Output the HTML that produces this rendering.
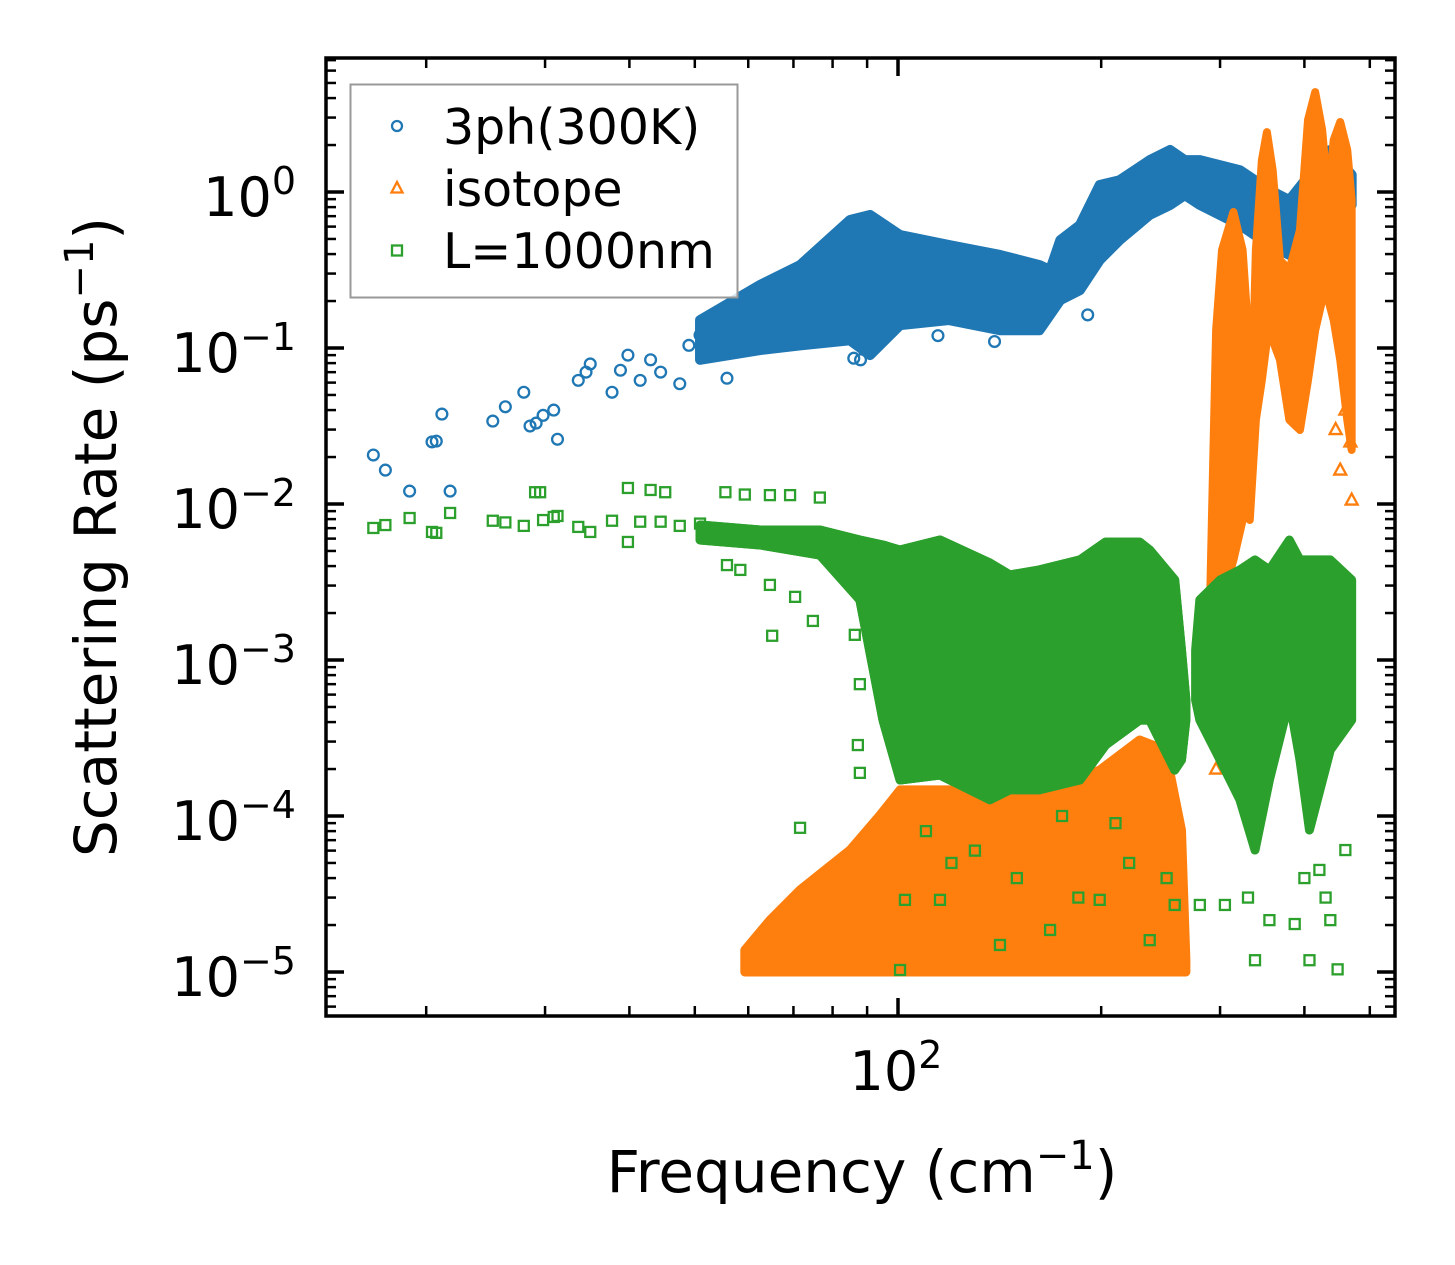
<!DOCTYPE html>
<html><head><meta charset="utf-8"><style>
html,body{margin:0;padding:0;background:#fff;}
svg{display:block;font-family:"DejaVu Sans","Liberation Sans",sans-serif;}
</style></head><body>
<svg id="chart" width="1455" height="1265" viewBox="0 0 1455 1265" xmlns="http://www.w3.org/2000/svg" style="position:absolute;left:0;top:0">
<rect width="1455" height="1265" fill="#fff"/>
<g id="plot"></g>
<g id="axes"></g>
</svg>
<script>
// ---- data (frequency in cm^-1, rate in ps^-1) ----
const blueSparseFreq = [16.7,17.4,18.9,20.4,20.7,21.1,21.7,25.1,26.2,27.9,28.5,29.1,29.8,30.9,31.3,33.6,34.5,35.0,37.7,38.8,39.8,41.5,43.0,44.5,47.5,49.0,50.9,55.8,58.4,62.5,88,114.6,139,191,86,60,67,75];
const blueSparseRate = [0.0206,0.0165,0.0121,0.025,0.0253,0.0377,0.0121,0.034,0.042,0.052,0.0316,0.033,0.037,0.04,0.026,0.062,0.070,0.079,0.052,0.072,0.09,0.062,0.084,0.07,0.059,0.104,0.121,0.064,0.15,0.14,0.084,0.12,0.11,0.163,0.086,0.18,0.2,0.19];
const blueBandFreq = [50.9,62.5,71.6,84.9,90.9,100.7,119,141.6,162,168,174,186,199,213,236,253,266,280,321,355,380,407,437,470];
const blueBandHi = [0.151,0.254,0.34,0.662,0.713,0.53,0.457,0.395,0.34,0.316,0.492,0.614,1.11,1.19,1.60,1.86,1.60,1.60,1.38,1.03,0.888,1.29,1.86,1.29];
const blueBandLo = [0.084,0.097,0.104,0.112,0.090,0.14,0.151,0.13,0.13,0.163,0.203,0.235,0.366,0.492,0.713,0.826,0.956,0.826,0.614,0.457,0.395,0.492,0.767,0.826];

const orangeBand1Freq = [59.3,64.6,71.6,84.9,94.0,100.7,119,141.6,168,199,228,249,263,267];
const orangeBand1Hi = [1.38e-5,2.15e-5,3.36e-5,6.05e-5,1.01e-4,1.47e-4,1.47e-4,1.47e-4,1.47e-4,1.97e-4,3.07e-4,2.65e-4,8.13e-5,1.19e-5];
const orangeBand1Lo = [1e-5,1e-5,1e-5,1e-5,1e-5,1e-5,1e-5,1e-5,1e-5,1e-5,1e-5,1e-5,1e-5,1e-5];
const orangeBand2Freq = [290,296,302,314,324,330,332,339,346,352,359,368,380,394,405,415,425,434,442,452,463,470];
const orangeBand2Hi = [0.00243,0.13,0.425,0.744,0.425,0.13,0.0143,0.425,1.60,2.42,1.38,0.366,0.316,0.571,2.9,4.37,2.5,0.888,2.15,2.81,1.86,0.888];
const orangeBand2Lo = [0.00134,0.00134,0.00243,0.00438,0.00789,0.0106,0.00789,0.0346,0.0624,0.112,0.112,0.084,0.0346,0.0298,0.0624,0.13,0.203,0.203,0.151,0.084,0.0346,0.0222];
const orangeSparseFreq = [470,452,460,445,468,300,305,296,310];
const orangeSparseRate = [0.0106,0.0165,0.04,0.03,0.025,0.0006,0.0012,0.0002,0.003];

const greenSparseFreq = [16.7,17.4,18.9,20.4,20.7,21.7,25.1,26.2,27.9,29.8,30.9,31.3,33.6,35.0,37.7,39.8,41.5,44.5,47.5,50.9,55.8,58.4,64.6,70.4,39.8,43.0,45.2,29.0,29.5,55.5,59.3,64.6,69.2,76.6,65.1,74.8,71.6,86.3,87.8,87.2,87.8,100.7,102.4,115.4,141.6,168,199,236,257,280,305,338,355,387,407,421,437,448,460,120,150,185,220,250,110,130,175,210,330,400,430];
const greenSparseRate = [0.00702,0.00733,0.00813,0.00662,0.00653,0.00876,0.00781,0.00762,0.00724,0.00789,0.00826,0.00838,0.00713,0.00662,0.00781,0.00571,0.0077,0.0077,0.00724,0.00749,0.00406,0.00378,0.00303,0.00254,0.01267,0.0123,0.0119,0.0119,0.0119,0.0119,0.0115,0.0114,0.0114,0.011,0.00143,0.00178,8.4e-5,0.00145,7.0e-4,2.85e-4,1.89e-4,1.03e-5,2.9e-5,2.9e-5,1.49e-5,1.86e-5,2.9e-5,1.6e-5,2.69e-5,2.69e-5,2.69e-5,1.19e-5,2.15e-5,2.03e-5,1.19e-5,4.51e-5,2.15e-5,1.04e-5,6.05e-5,5e-5,4e-5,3e-5,5e-5,4e-5,8e-5,6e-5,1e-4,9e-5,3e-5,4e-5,3e-5];
const greenBandAFreq = [50.9,62.5,76.6,87.8,95.0,100.7,115.4,136.8,146.5,162,186,203,228,236,257,263,267];
const greenBandAHi = [0.00733,0.00681,0.00681,0.00588,0.00546,0.00507,0.00588,0.00419,0.00351,0.00378,0.00438,0.0057,0.0057,0.00507,0.00326,0.00116,5.54e-4];
const greenBandALo = [0.00588,0.00546,0.00471,0.00243,4.12e-4,1.70e-4,1.83e-4,1.27e-4,1.47e-4,1.47e-4,1.70e-4,2.85e-4,4.12e-4,4.12e-4,1.97e-4,2.29e-4,4.12e-4];
const greenBandBFreq = [276,280,300,321,338,355,380,394,407,437,470];
const greenBandBHi = [0.00116,0.00243,0.00326,0.00378,0.00438,0.00378,0.00588,0.00438,0.00438,0.00438,0.00326];
const greenBandBLo = [5.54e-4,4.12e-4,2.29e-4,1.27e-4,6.05e-5,1.70e-4,5.54e-4,2.29e-4,8.13e-5,2.65e-4,4.12e-4];

const yTickExps = [0,-1,-2,-3,-4,-5];
const xTickExps = [2];

// ---- axes ----
const L=326,R=1395,T=58,B=1016;
const xs = f => 898 + 675*Math.log10(f/100);
const ys = v => 192 - 156*Math.log10(v);
const NS="http://www.w3.org/2000/svg";
const plot=document.getElementById('plot'), axes=document.getElementById('axes');
function mk(tag,attrs,parent){const e=document.createElementNS(NS,tag);for(const k in attrs)e.setAttribute(k,attrs[k]);parent.appendChild(e);return e;}

const C={b:'#1f77b4',o:'#ff7f0e',g:'#2ca02c'};
function band(fr,hi,lo,col,name,sw){
  let pts=fr.map((f,i)=>xs(f)+','+ys(hi[i]));
  for(let i=fr.length-1;i>=0;i--) pts.push(xs(fr[i])+','+ys(lo[i]));
  const p=mk('polygon',{points:pts.join(' '),fill:col,stroke:col,'stroke-width':sw,'stroke-linejoin':'round'},plot);
  
  
}
function circle(x,y,g){return mk('circle',{cx:x,cy:y,r:5.4,fill:'none',stroke:C.b,'stroke-width':2.3},g);}
function tri(x,y,g){return mk('polygon',{points:`${x},${y-6.5} ${x-6},${y+4.5} ${x+6},${y+4.5}`,fill:'none',stroke:C.o,'stroke-width':2.3},g);}
function sq(x,y,g){return mk('rect',{x:x-5,y:y-5,width:10,height:10,fill:'none',stroke:C.g,'stroke-width':2.3},g);}

// blue
const gb=mk('g',{},plot);


blueSparseFreq.forEach((f,i)=>{const e=circle(xs(f),ys(blueSparseRate[i]),gb);

});
band(blueBandFreq,blueBandHi,blueBandLo,C.b,'band-3ph',10);
// green back
band(greenBandAFreq,greenBandAHi,greenBandALo,C.g,'band-boundary-a',9);
// orange
band(orangeBand1Freq,orangeBand1Hi,orangeBand1Lo,C.o,'band-isotope-low',9);
band(orangeBand2Freq,orangeBand2Hi,orangeBand2Lo,C.o,'band-isotope-high',8);
const go=mk('g',{},plot);


orangeSparseFreq.forEach((f,i)=>{const e=tri(xs(f),ys(orangeSparseRate[i]),go);

});
band(greenBandAFreq,greenBandAHi,greenBandALo,C.g,'band-boundary-a-front',9);
band(greenBandBFreq,greenBandBHi,greenBandBLo,C.g,'band-boundary-b',9);
const gg=mk('g',{},plot);


greenSparseFreq.forEach((f,i)=>{const e=sq(xs(f),ys(greenSparseRate[i]),gg);

});

// spines
const sp=mk('rect',{x:L,y:T,width:R-L,height:B-T,fill:'none',stroke:'#000','stroke-width':3.5},axes);


for(let e=1;e>=-6;e--){
  for(let m=1;m<10;m++){
    const y=ys(m*Math.pow(10,e)); if(y<T||y>B) continue;
    const len=m===1?18:10;
    mk('line',{x1:L,x2:L+len,y1:y,y2:y,stroke:'#000','stroke-width':m===1?3.5:2.5},axes);
    mk('line',{x1:R,x2:R-len,y1:y,y2:y,stroke:'#000','stroke-width':m===1?3.5:2.5},axes);
  }
}
for(let e=1;e<=2;e++){
  for(let m=1;m<10;m++){
    const x=xs(m*Math.pow(10,e)); if(x<L||x>R) continue;
    const len=m===1?18:10;
    mk('line',{x1:x,x2:x,y1:B,y2:B-len,stroke:'#000','stroke-width':m===1?3.5:2.5},axes);
    mk('line',{x1:x,x2:x,y1:T,y2:T+len,stroke:'#000','stroke-width':m===1?3.5:2.5},axes);
  }
}
yTickExps.forEach(e=>{
  const t=mk('text',{x:296,y:ys(Math.pow(10,e))+24,'text-anchor':'end','font-size':54,fill:'#000'},axes);
  
  
  t.appendChild(document.createTextNode('10'));
  const s=mk('tspan',{dy:-22,'font-size':38},t); s.textContent=(e<0?'\u2212':'')+Math.abs(e);
});
xTickExps.forEach(e=>{
  const t=mk('text',{x:xs(Math.pow(10,e))-2,y:1090,'text-anchor':'middle','font-size':54,fill:'#000'},axes);
  
  
  t.appendChild(document.createTextNode('10'));
  const s=mk('tspan',{dy:-22,'font-size':38},t); s.textContent=String(e);
});
</script>
<svg style="position:absolute;left:0;top:0" width="1455" height="1265">
<text x="862" y="1192" text-anchor="middle" font-size="58" font-family="DejaVu Sans, Liberation Sans, sans-serif">Frequency (cm<tspan dy="-23" font-size="40">−1</tspan><tspan dy="23">)</tspan></text>
<text transform="translate(116,537) rotate(-90)" text-anchor="middle" font-size="58" font-family="DejaVu Sans, Liberation Sans, sans-serif">Scattering Rate (ps<tspan dy="-23" font-size="40">−1</tspan><tspan dy="23">)</tspan></text>
<g font-family="DejaVu Sans, Liberation Sans, sans-serif">
<rect x="350.5" y="84.5" width="387" height="213" fill="#fff" fill-opacity="0.8" stroke="#999" stroke-width="2"/>
<g><circle cx="397" cy="126" r="5" fill="none" stroke="#1f77b4" stroke-width="2.3"/><text x="443" y="144" font-size="49">3ph(300K)</text></g>
<g><polygon points="397,182 391.5,192.5 402.5,192.5" fill="none" stroke="#ff7f0e" stroke-width="2.3"/><text x="443" y="206" font-size="49">isotope</text></g>
<g><rect x="392" y="245.5" width="10" height="10" fill="none" stroke="#2ca02c" stroke-width="2.3"/><text x="443" y="268" font-size="49">L=1000nm</text></g>
</g>
</svg>
</body></html>
